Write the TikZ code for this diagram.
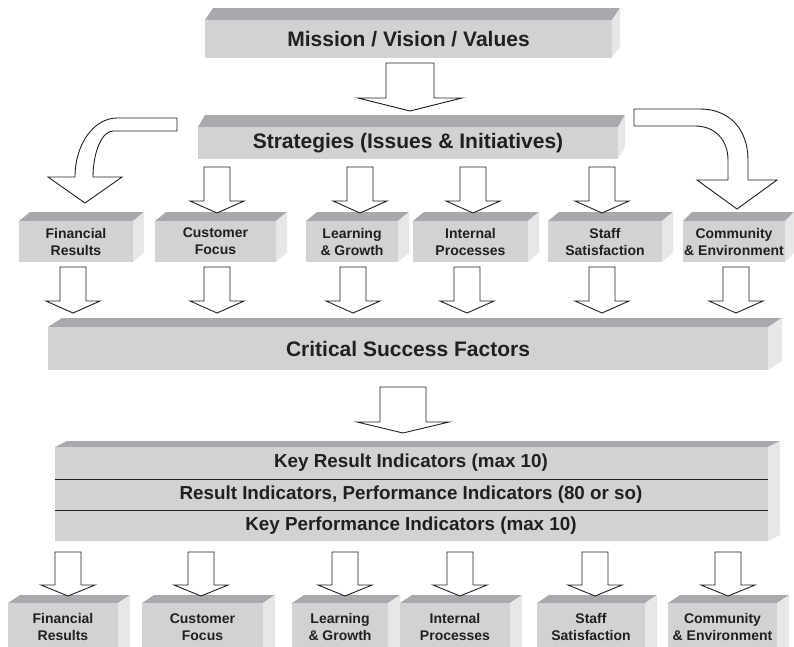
\documentclass[tikz,border=0pt]{standalone}
\usepackage{fontspec}
\setmainfont{Liberation Sans}
\usetikzlibrary{calc}
\definecolor{frontgray}{HTML}{D1D2D4}
\definecolor{topgray}{HTML}{A7A9AC}
\definecolor{sidegray}{HTML}{E6E7E8}
\definecolor{inkc}{HTML}{231F20}
\tikzset{
  lbl/.style={inner sep=0pt, text=inkc, font=\bfseries, align=center},
  barrow/.style={draw=inkc, fill=white, line width=0.9pt, line join=miter},
  divline/.style={draw=inkc, line width=0.9pt},
}
% #1 name, #2 x1, #3 ytop, #4 x2, #5 ybottom, #6 dx, #7 dy
\newcommand\slab[7]{%
  \fill[topgray] (#2,#3) -- (#2+#6,#3-#7) -- (#4+#6,#3-#7) -- (#4,#3) -- cycle;
  \fill[sidegray] (#4,#3) -- (#4+#6,#3-#7) -- (#4+#6,#5-#7) -- (#4,#5) -- cycle;
  \fill[frontgray] (#2,#3) rectangle (#4,#5);
  \coordinate (#1) at ({(#2+#4)/2},{(#3+#5)/2});
}
% #1 x, #2 ytop, #3 ytip, #4 half stem, #5 half head, #6 head length
\newcommand\blockarrow[6]{%
  \draw[barrow] (#1-#4,#2) -- (#1+#4,#2) -- (#1+#4,#3-#6) -- (#1+#5,#3-#6)
    -- (#1,#3) -- (#1-#5,#3-#6) -- (#1-#4,#3-#6) -- cycle;
}
\newcommand\bigfont{\fontsize{21}{24}\selectfont}
\newcommand\rowfont{\fontsize{18.8}{22}\selectfont}
\newcommand\smallfont{\fontsize{14}{17}\selectfont}
\begin{document}
\begin{tikzpicture}[x=1pt,y=-1pt]
\useasboundingbox (0,0) rectangle (794,646);
\clip (0,0) rectangle (794,646);

% Mission
\slab{mis}{205}{20}{612}{58}{8}{12}
\node[lbl, font=\bfseries\bigfont] (mission) at (mis) {Mission / Vision / Values};
% Strategies
\slab{str}{198}{127}{618}{159}{7}{12}
\node[lbl, font=\bfseries\bigfont] (strategies) at (str) {Strategies (Issues \& Initiatives)};

% middle row
\slab{f1}{19}{221}{133}{262}{11}{9}
\slab{c1}{155}{221}{276}{262}{11}{9}
\slab{l1}{306}{221}{398}{262}{11}{9}
\slab{i1}{413}{221}{528}{262}{11}{9}
\slab{s1}{548}{221}{662}{262}{11}{9}
\slab{e1}{683}{221}{785}{262}{9}{9}
\node[lbl, font=\bfseries\smallfont] (fin1) at (f1) {Financial\\Results};
\node[lbl, font=\bfseries\smallfont] (cus1) at (c1) {Customer\\Focus};
\node[lbl, font=\bfseries\smallfont] (lea1) at (l1) {Learning\\\& Growth};
\node[lbl, font=\bfseries\smallfont] (int1) at (i1) {Internal\\Processes};
\node[lbl, font=\bfseries\smallfont] (sta1) at (s1) {Staff\\Satisfaction};
\node[lbl, font=\bfseries\smallfont] (com1) at (e1) {Community\\\& Environment};

% CSF
\slab{csf}{48}{327}{768}{370}{14}{9}
\node[lbl, font=\bfseries\bigfont] (critical) at (csf) {Critical Success Factors};

% KRI stack
\slab{kri}{55}{447}{768}{541}{12}{6}
\draw[divline] (55,479) -- (768,479);
\draw[divline] (55,510) -- (768,510);
\node[lbl, font=\bfseries\rowfont] (kri1) at (411,463) {Key Result Indicators (max 10)};
\node[lbl, font=\bfseries\rowfont] (ri) at (411,494.5) {Result Indicators, Performance Indicators (80 or so)};
\node[lbl, font=\bfseries\rowfont] (kpi) at (411,525.5) {Key Performance Indicators (max 10)};

% bottom row
\slab{f2}{8}{603}{118}{660}{12}{8}
\slab{c2}{142}{603}{263}{660}{12}{8}
\slab{l2}{292}{603}{388}{660}{12}{8}
\slab{i2}{400}{603}{510}{660}{12}{8}
\slab{s2}{537}{603}{645}{660}{12}{8}
\slab{e2}{668}{603}{777}{660}{12}{8}
\node[lbl, font=\bfseries\smallfont] (fin2) at (63,627) {Financial\\Results};
\node[lbl, font=\bfseries\smallfont] (cus2) at (202.5,627) {Customer\\Focus};
\node[lbl, font=\bfseries\smallfont] (lea2) at (340,627) {Learning\\\& Growth};
\node[lbl, font=\bfseries\smallfont] (int2) at (455,627) {Internal\\Processes};
\node[lbl, font=\bfseries\smallfont] (sta2) at (591,627) {Staff\\Satisfaction};
\node[lbl, font=\bfseries\smallfont] (com2) at (722.5,627) {Community\\\& Environment};

% arrows
\blockarrow{410}{63}{111}{24}{52}{13}
\blockarrow{217}{167}{213}{13}{27}{12}
\blockarrow{360}{167}{213}{13}{27}{12}
\blockarrow{473}{167}{213}{13}{27}{12}
\blockarrow{602}{167}{213}{13}{27}{12}

\blockarrow{73}{267}{313}{13}{27}{12}
\blockarrow{217}{267}{313}{13}{27}{12}
\blockarrow{353}{267}{313}{13}{27}{12}
\blockarrow{467}{267}{313}{13}{27}{12}
\blockarrow{602}{267}{313}{13}{27}{12}
\blockarrow{736}{267}{313}{13}{27}{12}

\blockarrow{403}{387}{433}{23}{46}{11}

\blockarrow{68}{552}{596}{13}{27}{11}
\blockarrow{201}{552}{596}{13}{27}{11}
\blockarrow{345}{552}{596}{13}{27}{11}
\blockarrow{460}{552}{596}{13}{27}{11}
\blockarrow{595}{552}{596}{13}{27}{11}
\blockarrow{728}{552}{596}{13}{27}{11}

% curved arrows
\draw[barrow] (177,118) -- (177,131) -- (113,131)
  .. controls (102,131) and (93,152) .. (93,177)
  -- (122,177) -- (85,203) -- (48,177) -- (75,177)
  .. controls (75,144) and (94,118) .. (117,118) -- cycle;
\draw[barrow] (634,109) -- (700,109)
  .. controls (730,109) and (748,130) .. (748,160)
  -- (748,180) -- (777,180) -- (737,209) -- (697,180) -- (728,180) -- (728,160)
  .. controls (728,140) and (715,126) .. (695,126)
  -- (634,126) -- cycle;
\end{tikzpicture}
\end{document}
